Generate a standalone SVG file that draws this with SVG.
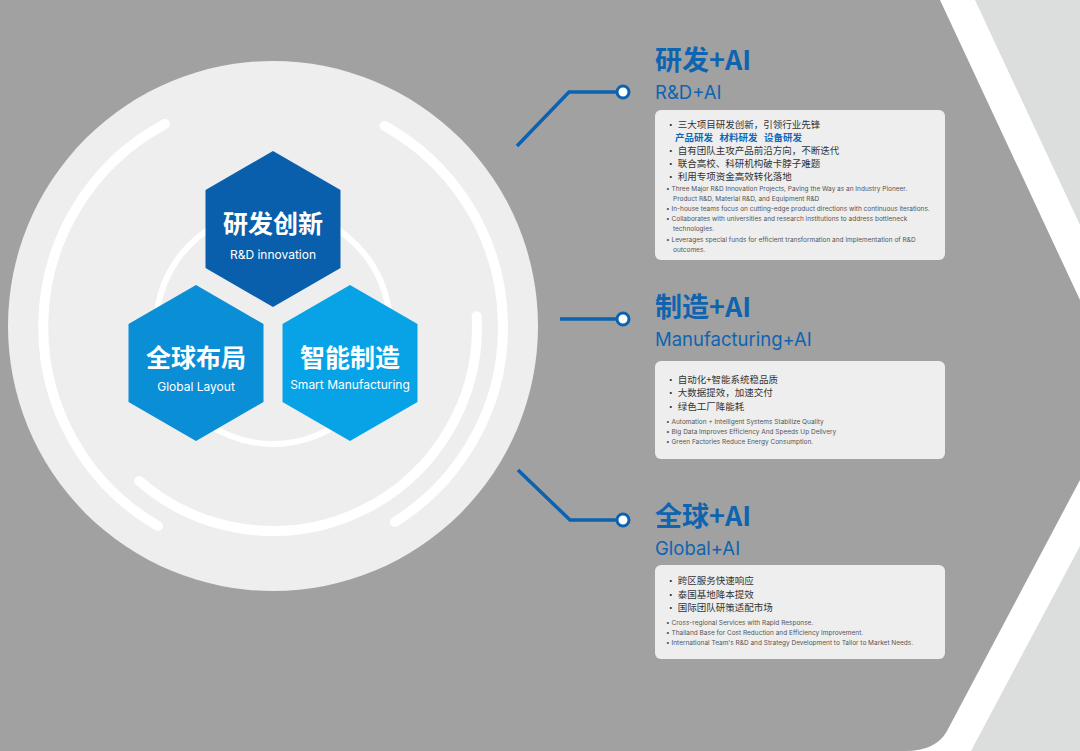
<svg xmlns="http://www.w3.org/2000/svg" width="1080" height="751" viewBox="0 0 1080 751">
<style>
text{font-family:"Noto Sans CJK SC","Noto Sans",sans-serif}
.hc{fill:#fff;font-weight:700;font-size:25px;text-anchor:middle}
.he{fill:#fff;font-family:Inter,"Noto Sans",sans-serif;font-size:12px;text-anchor:middle}
.t1{fill:#0f64b0;font-weight:700;font-size:27px}
.t2{fill:#0f64b0;font-family:Inter,"Noto Sans",sans-serif;font-size:18.5px}
.card{fill:#eeeeee}
.cn{fill:#333;font-size:9.5px}
.cb{fill:#1068b8;font-size:9.5px;font-weight:700}
.en{fill:#555;font-family:Inter,"Noto Sans",sans-serif;font-size:6.5px}
.ring{fill:none;stroke:#fff;stroke-linecap:round}
.con{fill:none;stroke:#0c62b0;stroke-width:3.5}
.dot{fill:#fff;stroke:#0c62b0;stroke-width:3}
</style>
<rect width="1080" height="751" fill="#dcdddd"/>
<polygon points="0,0 975,0 1080,225 1080,546 971,751 0,751" fill="#fff"/>
<path d="M0,0 H940 L1080,300 V480 L947,731 Q936,751 905,751 H0 Z" fill="#a1a1a1"/>
<g id="circle">
<circle cx="273" cy="326" r="265" fill="#eeeeee"/>
<circle class="ring" cx="273" cy="327" r="117" stroke-width="6"/>
<path class="ring" stroke-width="10" d="M165,124 A230,230 0 0 0 158,526"/>
<path class="ring" stroke-width="10" d="M384.5,125.8 A230,230 0 0 1 394.9,522"/>
<path class="ring" stroke-width="10" d="M476.7,316.3 A204,204 0 0 1 139.2,481"/>
</g>
<g id="hex-rd">
<polygon points="273,151 340.5,190 340.5,268 273,307 205.5,268 205.5,190" fill="#0a5fac"/>
<text class="hc" x="273" y="233">研发创新</text>
<text class="he" x="273" y="259">R&amp;D innovation</text>
</g>
<g id="hex-global">
<polygon points="196,285 263.5,324 263.5,402 196,441 128.5,402 128.5,324" fill="#0a8ed6"/>
<text class="hc" x="196" y="367">全球布局</text>
<text class="he" x="196" y="391">Global Layout</text>
</g>
<g id="hex-smart">
<polygon points="350,285 417.5,324 417.5,402 350,441 282.5,402 282.5,324" fill="#07a3e6"/>
<text class="hc" x="350" y="367">智能制造</text>
<text class="he" x="350" y="389">Smart Manufacturing</text>
</g>
<g id="connectors">
<polyline class="con" points="517,146 569,92 617,92"/>
<line class="con" x1="560" y1="319" x2="617" y2="319"/>
<polyline class="con" points="518,470 570,520 617,520"/>
<circle class="dot" cx="623" cy="92" r="6"/>
<circle class="dot" cx="623" cy="319" r="6"/>
<circle class="dot" cx="623" cy="520" r="6"/>
</g>
<g id="rd-ai">
<text class="t1" x="655" y="70">研发+AI</text>
<text class="t2" x="655" y="99">R&amp;D+AI</text>
<rect class="card" x="655" y="110" width="290" height="150" rx="6"/>
<text class="cn" x="666" y="128">•  三大项目研发创新，引领行业先锋</text>
<text class="cb" x="675" y="141" xml:space="preserve">产品研发   材料研发   设备研发</text>
<text class="cn" x="666" y="154">•  自有团队主攻产品前沿方向，不断迭代</text>
<text class="cn" x="666" y="167">•  联合高校、科研机构破卡脖子难题</text>
<text class="cn" x="666" y="180">•  利用专项资金高效转化落地</text>
<text class="en" x="666" y="191">•  Three Major R&amp;D Innovation Projects, Paving the Way as an Industry Pioneer.</text>
<text class="en" x="673" y="201">Product R&amp;D, Material R&amp;D, and Equipment R&amp;D</text>
<text class="en" x="666" y="211">•  In-house teams focus on cutting-edge product directions with continuous iterations.</text>
<text class="en" x="666" y="221">•  Collaborates with universities and research institutions to address bottleneck</text>
<text class="en" x="673" y="231">technologies.</text>
<text class="en" x="666" y="242">•  Leverages special funds for efficient transformation and implementation of R&amp;D</text>
<text class="en" x="673" y="252">outcomes.</text>
</g>
<g id="mfg-ai">
<text class="t1" x="655" y="317">制造+AI</text>
<text class="t2" x="655" y="346">Manufacturing+AI</text>
<rect class="card" x="655" y="361" width="290" height="98" rx="6"/>
<text class="cn" x="666" y="383">•  自动化+智能系统稳品质</text>
<text class="cn" x="666" y="396">•  大数据提效，加速交付</text>
<text class="cn" x="666" y="410">•  绿色工厂降能耗</text>
<text class="en" x="666" y="424">•  Automation + Intelligent Systems Stabilize Quality</text>
<text class="en" x="666" y="434">•  Big Data Improves Efficiency And Speeds Up Delivery</text>
<text class="en" x="666" y="444">•  Green Factories Reduce Energy Consumption.</text>
</g>
<g id="global-ai">
<text class="t1" x="655" y="526">全球+AI</text>
<text class="t2" x="655" y="555">Global+AI</text>
<rect class="card" x="655" y="565" width="290" height="94" rx="6"/>
<text class="cn" x="666" y="584">•  跨区服务快速响应</text>
<text class="cn" x="666" y="598">•  泰国基地降本提效</text>
<text class="cn" x="666" y="611">•  国际团队研策适配市场</text>
<text class="en" x="666" y="625">•  Cross-regional Services with Rapid Response.</text>
<text class="en" x="666" y="635">•  Thailand Base for Cost Reduction and Efficiency Improvement.</text>
<text class="en" x="666" y="645">•  International Team's R&amp;D and Strategy Development to Tailor to Market Needs.</text>
</g>
</svg>
